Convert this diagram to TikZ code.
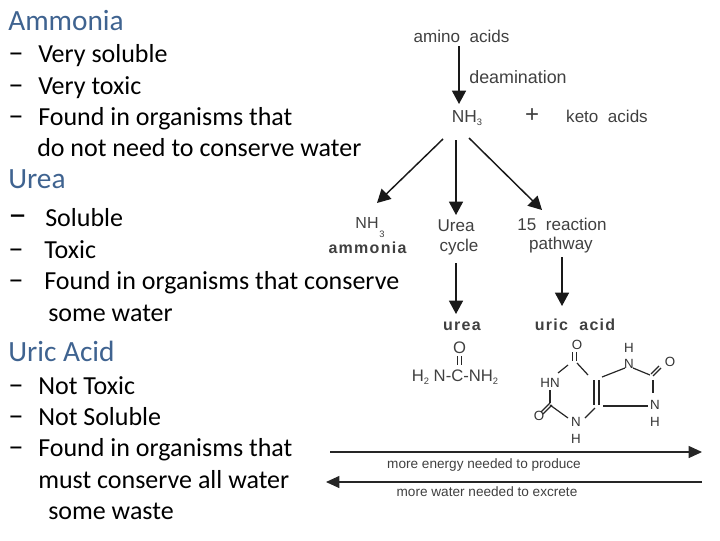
\documentclass[tikz,border=0pt]{standalone}
\usepackage{fontspec}
\setmainfont{Carlito}
\newfontfamily\diag{Liberation Sans}
\newfontfamily\diagb[LetterSpace=8]{Liberation Sans Bold}
\usetikzlibrary{arrows.meta}
\definecolor{headblue}{HTML}{3F6390}
\newcommand{\lowr}[1]{\raisebox{-0.35ex}{\scriptsize #1}}
\newcommand{\bigdash}{\fontsize{23}{24}\selectfont –}
\tikzset{
 head/.style={anchor=base west,inner sep=0pt,font=\fontsize{22}{24}\selectfont,text=headblue},
 body/.style={anchor=base west,inner sep=0pt,font=\fontsize{19.5}{22}\selectfont,text=black},
 lab/.style={inner sep=0pt,font=\diag\fontsize{12.8}{14}\selectfont,text=black!75},
 blab/.style={lab,font=\diagb\fontsize{12}{14}\selectfont},
 small/.style={lab,font=\diag\fontsize{10.2}{12}\selectfont},
 atom/.style={lab,font=\diag\fontsize{10}{11}\selectfont,text=black!80},
 arr/.style={line width=1.1pt,draw=black!90,-{Triangle[length=10pt,width=10.5pt]}},
 bond/.style={line width=0.9pt,draw=black!85},
 thin/.style={line width=0.8pt,draw=black!85,-{Triangle[length=10pt,width=9pt]}}
}
\begin{document}
\begin{tikzpicture}[x=0.75pt,y=-0.75pt]
\useasboundingbox (0,0) rectangle (720,540);
% left column
\node[head] (h1) at (8,30) {Ammonia};
\node[body] (d1) at (8,62) {\bigdash};\node[body] (t1) at (38,62) {Very soluble};
\node[body] (d2) at (8,94) {\bigdash};\node[body] (t2) at (38,94) {Very toxic};
\node[body] (d3) at (8,125) {\bigdash};\node[body] (t3) at (38,125) {Found in organisms that};
\node[body] (t4) at (37,156) {do not need to conserve water};
\node[head] (h2) at (8,188) {Urea};
\node[body] (d4) at (8,226) {\fontsize{28}{28}\selectfont –};\node[body] (t5) at (45,226) {Soluble};
\node[body] (d5) at (8,258) {\bigdash};\node[body] (t6) at (44,258) {Toxic};
\node[body] (d6) at (8,289) {\bigdash};\node[body] (t7) at (44,289) {Found in organisms that conserve};
\node[body] (t8) at (48,321) {some water};
\node[head] (h3) at (8,361) {Uric Acid};
\node[body] (d7) at (8,394) {\bigdash};\node[body] (t9) at (38,394) {Not Toxic};
\node[body] (d8) at (8,425) {\bigdash};\node[body] (t10) at (38,425) {Not Soluble};
\node[body] (d9) at (8,456) {\bigdash};\node[body] (t11) at (38,456) {Found in organisms that};
\node[body] (t12) at (38,488) {must conserve all water};
\node[body] (t13) at (48,519) {some waste};
% diagram labels
\node[lab] (aa) at (461.5,36) {amino\ \ acids};
\node[lab,font=\diag\fontsize{13.4}{14}\selectfont] (deam) at (518,77) {deamination};
\node[lab,font=\diag\fontsize{13}{14}\selectfont] (nh3) at (467,118) {NH\lowr{3}};
\node[lab,font=\diag\fontsize{18}{20}\selectfont] (plus) at (532,116) {+};
\node[lab] (keto) at (607,116) {keto\ \ acids};
\node[lab,font=\diag\fontsize{12}{14}\selectfont] (nh3b) at (367,223) {NH};
\node[lab] (three) at (382,234) {\scriptsize 3};
\node[blab] (amm) at (367.5,248) {ammonia};
\node[lab] (ucy) at (456,226) {Urea};
\node[lab] (ucy2) at (459,247) {cycle};
\node[lab] (r15) at (562,224) {15\ \ reaction};
\node[lab] (path) at (561,245) {pathway};
\node[blab] (urea) at (462,326) {urea};
\node[blab] (uric) at (575,325) {uric\ \ acid};
% urea formula
\node[lab,font=\diag\fontsize{12.5}{14}\selectfont] (uo) at (459.5,348) {O};
\node[lab,font=\diag\fontsize{12.5}{14}\selectfont] (uf) at (455,377) {H\lowr{2} N-C-NH\lowr{2}};
\draw[bond,line width=.6pt] (457.5,356) -- (457.5,365) (461,356) -- (461,365);
% uric acid atoms
\node[atom] (o1) at (577,345) {O};
\node[atom] (hn) at (550,383) {HN};
\node[atom] (o2) at (539,416) {O};
\node[atom] (n1) at (576,422) {N};
\node[atom] (h1a) at (576,439) {H};
\node[atom] (n2) at (629,364) {N};
\node[atom] (h2a) at (629,348) {H};
\node[atom] (o3) at (670,362) {O};
\node[atom] (n3) at (655,405) {N};
\node[atom] (h3a) at (655,422) {H};
\draw[bond] (572.5,352) -- (572.5,361) (576.5,352) -- (576.5,361);
\draw[bond] (577,363) -- (588,375);
\draw[bond] (568,365) -- (558,373);
\draw[bond] (550,390) -- (550,403);
\draw[bond] (550,403) -- (541,412) (552,405) -- (543,414);
\draw[bond] (550,405) -- (568,418);
\draw[bond] (585,418) -- (595,408);
\draw[bond,line width=1.1pt] (594,380) -- (594,405) (599,380) -- (599,405);
\draw[bond] (602,377) -- (625,368);
\draw[bond] (633,368) -- (650,375);
\draw[bond] (651,374) -- (659,366) (653,376) -- (661,368);
\draw[bond] (653,380) -- (653,393);
\draw[bond] (603,406) -- (648,406);
% anchors of connectors
\coordinate (a1) at (459,46);\coordinate (a2) at (459,104);
\coordinate (b0) at (443,139);\coordinate (b1) at (377,203);
\coordinate (c0) at (456,140);\coordinate (c1) at (456,215);
\coordinate (d0a) at (469,138);\coordinate (d1a) at (542,210);
\coordinate (e0) at (456,263);\coordinate (e1) at (456,314);
\coordinate (f0) at (562,257);\coordinate (f1) at (562,306);
\coordinate (g0) at (330,452);\coordinate (g1) at (702,452);
\coordinate (k0) at (702,482);\coordinate (k1) at (326,482);
\draw[arr] (a1) -- (a2);
\draw[arr] (b0) -- (b1);
\draw[arr] (c0) -- (c1);
\draw[arr] (d0a) -- (d1a);
\draw[arr] (e0) -- (e1);
\draw[arr] (f0) -- (f1);
\draw[thin] (g0) -- (g1);
\draw[thin] (k0) -- (k1);
\node[small] (me) at (484,465) {more energy needed to produce};
\node[small] (mw) at (487,492) {more water needed to excrete};
\end{tikzpicture}
\end{document}
